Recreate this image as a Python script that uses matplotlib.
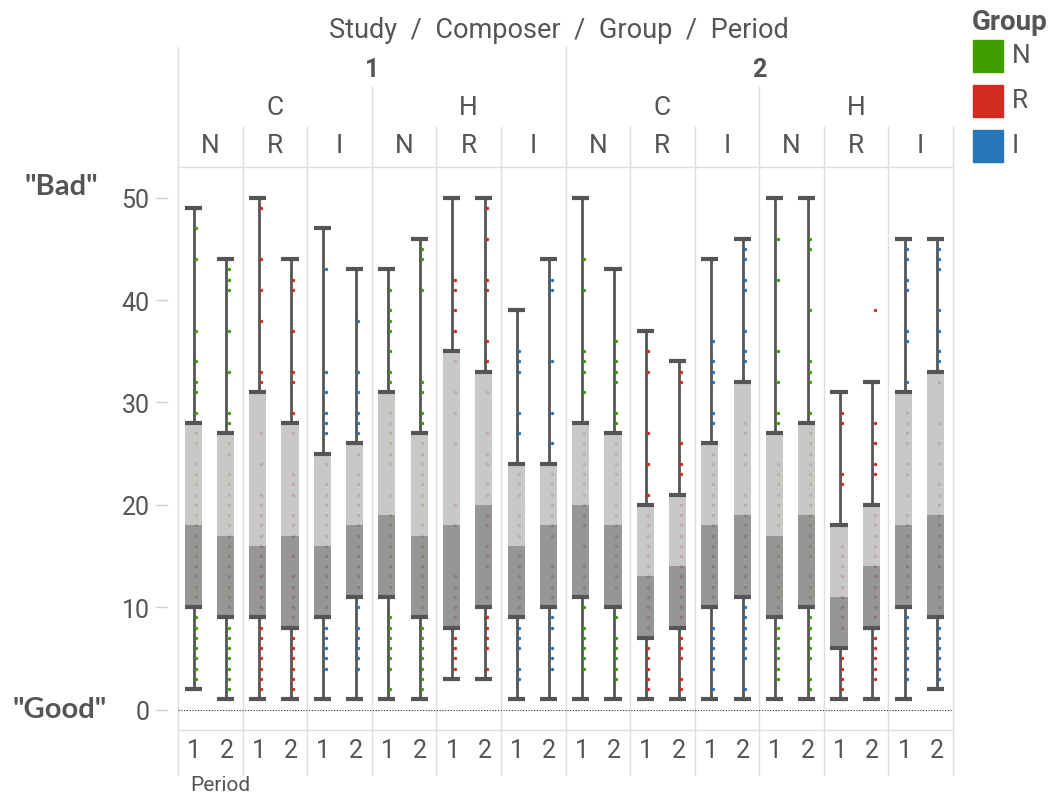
import numpy as np
import matplotlib
matplotlib.use('Agg')
import matplotlib.pyplot as plt
from matplotlib.patches import Rectangle
from matplotlib.transforms import blended_transform_factory

# ---- data (box order: study > composer > group > period) ----
studies = ['1', '2']
composers = ['C', 'H']
groups = ['N', 'R', 'I']
periods = ['1', '2']
group_colors = {'N': '#3f9f00', 'R': '#d42b21', 'I': '#2975ba'}

whisker_lo = [2, 1, 1, 1, 1, 1, 1, 1, 3, 3, 1, 1,
              1, 1, 1, 1, 1, 1, 1, 1, 1, 1, 1, 2]
q1 = [10, 9, 9, 8, 9, 11, 11, 9, 8, 10, 9, 10,
      11, 10, 7, 8, 10, 11, 9, 10, 6, 8, 10, 9]
median = [18, 17, 16, 17, 16, 18, 19, 17, 18, 20, 16, 18,
          20, 18, 13, 14, 18, 19, 17, 19, 11, 14, 18, 19]
q3 = [28, 27, 31, 28, 25, 26, 31, 27, 35, 33, 24, 24,
      28, 27, 20, 21, 26, 32, 27, 28, 18, 20, 31, 33]
whisker_hi = [49, 44, 50, 44, 47, 43, 43, 46, 50, 50, 39, 44,
              50, 43, 37, 34, 44, 46, 50, 50, 31, 32, 46, 46]

# distinct scores shown as dots next to each box
scores = [
    [49, 47, 44, 37, 34, 32, 31, 29, 28, 27, 26, 24, 23, 22, 21, 20, 19, 18, 17, 16, 15, 14, 13, 12, 11, 9, 8, 7, 6, 5, 4, 3, 2],
    [44, 43, 42, 41, 37, 33, 29, 28, 26, 25, 23, 22, 21, 20, 19, 18, 17, 16, 15, 14, 13, 12, 11, 10, 9, 8, 7, 6, 5, 4, 3, 2, 1],
    [50, 49, 44, 41, 38, 33, 32, 31, 27, 24, 21, 20, 19, 18, 17, 16, 15, 14, 13, 12, 11, 10, 9, 8, 7, 6, 5, 4, 3, 2, 1],
    [44, 42, 41, 37, 33, 32, 29, 28, 27, 23, 22, 21, 19, 18, 17, 15, 13, 12, 11, 10, 9, 8, 7, 6, 5, 4, 3, 2, 1],
    [47, 43, 33, 31, 29, 28, 27, 24, 22, 21, 20, 19, 18, 17, 16, 15, 14, 13, 12, 11, 10, 9, 8, 7, 6, 5, 4, 1],
    [43, 38, 33, 31, 29, 28, 27, 26, 25, 23, 22, 21, 20, 19, 18, 17, 16, 15, 14, 13, 12, 11, 10, 8, 7, 6, 5, 4, 1],
    [43, 41, 39, 38, 37, 35, 33, 32, 31, 29, 28, 27, 26, 25, 24, 21, 19, 18, 17, 16, 15, 14, 13, 12, 11, 9, 8, 7, 6, 5, 4, 2, 1],
    [46, 45, 44, 41, 32, 31, 29, 28, 26, 25, 24, 23, 22, 21, 20, 18, 17, 16, 15, 14, 13, 12, 11, 10, 9, 8, 7, 6, 5, 4, 3, 2, 1],
    [50, 42, 41, 39, 37, 35, 34, 31, 29, 26, 20, 18, 13, 12, 11, 10, 9, 8, 7, 6, 5, 4, 3],
    [50, 49, 46, 42, 41, 36, 34, 31, 27, 25, 24, 22, 21, 19, 18, 16, 15, 14, 12, 11, 10, 9, 8, 7, 6, 4, 3],
    [39, 35, 34, 33, 29, 27, 24, 23, 22, 21, 19, 18, 17, 15, 14, 13, 12, 11, 10, 9, 8, 7, 6, 4, 3, 1],
    [44, 42, 41, 34, 29, 26, 24, 23, 22, 21, 20, 19, 18, 17, 14, 13, 12, 11, 9, 8, 6, 5, 4, 1],
    [50, 44, 41, 35, 34, 33, 31, 28, 27, 26, 25, 24, 23, 22, 21, 20, 19, 18, 16, 14, 13, 12, 11, 10, 8, 7, 6, 5, 4, 1],
    [43, 36, 34, 33, 32, 29, 28, 26, 25, 24, 23, 22, 20, 19, 18, 17, 16, 15, 14, 13, 12, 9, 7, 6, 5, 4, 3, 1],
    [37, 35, 33, 27, 24, 21, 20, 19, 18, 17, 16, 15, 14, 13, 12, 11, 10, 9, 8, 7, 6, 5, 4, 3, 2, 1],
    [34, 33, 32, 26, 24, 23, 21, 20, 19, 18, 17, 16, 15, 14, 13, 12, 11, 10, 9, 8, 7, 6, 5, 3, 2, 1],
    [44, 36, 34, 33, 32, 29, 28, 26, 25, 24, 23, 22, 21, 20, 19, 18, 17, 16, 15, 14, 13, 12, 11, 8, 7, 6, 5, 4, 2, 1],
    [46, 45, 44, 42, 41, 37, 35, 34, 32, 28, 27, 25, 24, 21, 20, 19, 18, 17, 16, 15, 14, 13, 12, 11, 10, 9, 8, 7, 6, 5, 2, 1],
    [50, 46, 42, 35, 32, 29, 28, 24, 23, 22, 21, 20, 19, 18, 16, 15, 14, 13, 12, 11, 10, 9, 8, 7, 6, 5, 4, 3, 1],
    [50, 46, 45, 39, 34, 33, 32, 29, 28, 27, 26, 25, 24, 23, 22, 21, 20, 19, 18, 17, 16, 15, 13, 12, 11, 9, 8, 7, 6, 5, 3, 2, 1],
    [31, 29, 28, 23, 22, 18, 16, 15, 14, 13, 12, 11, 10, 9, 8, 5, 4, 3, 2, 1],
    [39, 32, 28, 26, 24, 23, 20, 19, 18, 17, 16, 15, 14, 13, 12, 11, 10, 9, 8, 7, 6, 5, 4, 3, 1],
    [46, 45, 44, 42, 41, 37, 36, 32, 31, 29, 28, 27, 26, 24, 23, 21, 19, 18, 17, 16, 15, 14, 13, 12, 11, 9, 8, 7, 6, 5, 4, 3, 1],
    [46, 45, 44, 43, 39, 37, 35, 34, 33, 32, 28, 26, 24, 22, 21, 20, 19, 18, 17, 16, 15, 14, 12, 11, 10, 9, 8, 7, 6, 5, 4, 3, 2],
]

yticks = [0, 10, 20, 30, 40, 50]

# ---- layout (pixel helpers) ----
W, H = 1060, 803
AX_L, AX_R, AX_T, AX_B = 178, 953, 168, 731
TXT = '#555555'
GRID = '#dedede'
FONT = 'Roboto'

fig = plt.figure(figsize=(W / 100, H / 100), dpi=100)
ax = fig.add_axes([AX_L / W, 1 - AX_B / H, (AX_R - AX_L) / W, (AX_B - AX_T) / H])
ax.set_facecolor('none')


def ay(py):
    # figure pixel row -> axes fraction
    return (AX_B - py) / (AX_B - AX_T)


n = len(median)
ax.set_xlim(0, n)
ax.set_ylim(-2, 53)
tr = blended_transform_factory(ax.transData, ax.transAxes)

box_w = 0.53
for i in range(n):
    x = i + 0.5
    bx = x - 0.03
    g = groups[(i // 2) % 3]
    ax.vlines(x, whisker_lo[i], q1[i], color='#555555', lw=2, zorder=2)
    ax.vlines(x, q3[i], whisker_hi[i], color='#555555', lw=2, zorder=2)
    # dots sit on the right edge of the whisker, under the box
    ax.scatter(np.full(len(scores[i]), x + 0.07), scores[i], s=6,
               color=group_colors[g], linewidths=0, zorder=3)
    ax.bar(bx, median[i] - q1[i], bottom=q1[i], width=box_w,
           color='#848484', alpha=0.85, zorder=4)
    ax.bar(bx, q3[i] - median[i], bottom=median[i], width=box_w,
           color='#bfbfbf', alpha=0.85, zorder=4)
    for v in (whisker_lo[i], q1[i], q3[i], whisker_hi[i]):
        ax.hlines(v, bx - box_w / 2, bx + box_w / 2, color='#555555', lw=3, zorder=5)

# zero reference line
ax.axhline(0, color='#333333', ls=(0, (1, 1.5)), lw=0.8, zorder=1)

# spines
for s in ['left', 'right']:
    ax.spines[s].set_visible(False)
for s in ['top', 'bottom']:
    ax.spines[s].set_color(GRID)
    ax.spines[s].set_linewidth(1)

# vertical dividers, running up into the header and down through the period row
for b in range(0, n + 1, 2):
    if b in (0, 12):
        top = 48
    elif b in (6, 18):
        top = 88
    else:
        top = 128
    ax.plot([b, b], [ay(top), ay(776)], transform=tr, color=GRID, lw=1,
            clip_on=False, zorder=0)

# y axis
ax.set_yticks(yticks)
ax.tick_params(axis='y', length=0, pad=20.5, labelsize=18, labelcolor=TXT)
ytr = ax.get_yaxis_transform()
for t in yticks:
    ax.plot([-0.0284, -0.0142], [t, t], transform=ytr, color='#d0d0d0', lw=1,
            clip_on=False)
for lab in ax.get_yticklabels():
    lab.set_fontfamily(FONT)

# period labels
ax.set_xticks([i + 0.5 for i in range(n)])
ax.set_xticklabels([periods[i % 2] for i in range(n)], fontsize=18,
                   color=TXT, family=FONT)
ax.tick_params(axis='x', length=0, pad=6)

# header rows
ax.text(n / 2 - 0.2, ay(31), 'Study  /  Composer  /  Group  /  Period', transform=tr,
        ha='center', va='center', fontsize=19.5, color=TXT, family=FONT)
for k, st in enumerate(studies):
    ax.text(6 + 12 * k, ay(70), st, transform=tr, ha='center', va='center',
            fontsize=18, fontweight='bold', color=TXT, family=FONT)
    for j, cp in enumerate(composers):
        ax.text(12 * k + 6 * j + 3, ay(108), cp, transform=tr, ha='center',
                va='center', fontsize=19, color=TXT, family=FONT)
        for m, gp in enumerate(groups):
            ax.text(12 * k + 6 * j + 2 * m + 1, ay(146), gp, transform=tr,
                    ha='center', va='center', fontsize=19, color=TXT, family=FONT)

# side labels
fig.text(61 / W, 1 - 187 / H, '"Bad"', ha='center', va='center', fontsize=21,
         fontweight='bold', color=TXT, family='Lato')
fig.text(60 / W, 1 - 710 / H, '"Good"', ha='center', va='center', fontsize=21,
         fontweight='bold', color=TXT, family='Lato')
fig.text(190 / W, 1 - 786 / H, 'Period', ha='left', va='center', fontsize=15,
         color=TXT, family=FONT)

# legend
fig.text(1010 / W, 1 - 22 / H, 'Group', ha='center', va='center', fontsize=20,
         fontweight='bold', color=TXT, family=FONT)
for k, gp in enumerate(groups):
    y0 = 41 + 45 * k
    fig.patches.append(Rectangle((973 / W, 1 - (y0 + 32) / H), 30 / W, 32 / H,
                                 transform=fig.transFigure, color=group_colors[gp]))
    fig.text(1012 / W, 1 - (y0 + 15) / H, gp, ha='left', va='center',
             fontsize=19, color=TXT, family=FONT)

fig.savefig('out.png', dpi=100)
